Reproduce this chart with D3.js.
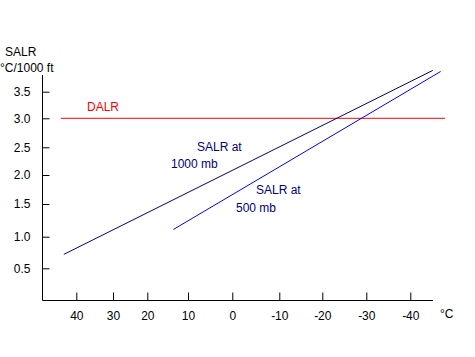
<!DOCTYPE html>
<html><head><meta charset="utf-8">
<script src="https://cdn.jsdelivr.net/npm/d3@7"></script>
<style>body{margin:0;background:#fff}svg{display:block}text{font-family:"Liberation Sans",Arial,sans-serif;font-size:12px}</style>
</head><body>
<svg id="c" width="475" height="357"></svg>
<script>
// Data
const xTicks = [40, 30, 20, 10, 0, -10, -20, -30, -40];
const yTicks = [0.5, 1.0, 1.5, 2.0, 2.5, 3.0, 3.5];
const salr1000Temp = [43.4, -45.1];
const salr1000Rate = [0.72, 3.90];
const salr500Temp = [13.6, -46.9];
const salr500Rate = [1.11, 3.88];
const dalrTemp = [44.2, -47.9];
const dalrRate = [3.0, 3.0];

// Layout (the original axis is hand-spaced, so a piecewise scale is used)
const xTickPx = [76.3, 113, 147.3, 188, 232.3, 279.3, 322.3, 366.3, 410.3];
const yDomain = [0, 0.5, 1.0, 1.5, 2.0, 2.5, 3.0, 3.5];
const yTickPx = [300, 268.3, 236.7, 204, 175, 147.3, 118.3, 91.7];

const svg = d3.select("#c");
const x = d3.scaleLinear().domain(xTicks).range(xTickPx);
const y = d3.scaleLinear().domain(yDomain).range(yTickPx);

const axisX0 = 42.5, axisY0 = 300.5;
const FONT = "Liberation Sans, Arial, sans-serif";

// axes
svg.append("line").attr("x1", axisX0).attr("x2", axisX0).attr("y1", 75).attr("y2", axisY0).attr("stroke", "#000");
svg.append("line").attr("x1", axisX0).attr("x2", 433).attr("y1", axisY0).attr("y2", axisY0).attr("stroke", "#000");

const gx = svg.append("g").attr("transform", `translate(0,${axisY0})`)
  .call(d3.axisBottom(x).tickValues(xTicks).tickSizeInner(-8).tickSizeOuter(0).tickPadding(9).tickFormat(d => String(d)));
gx.select(".domain").remove();
gx.selectAll(".tick line").attr("stroke", "#000");
gx.selectAll("text").attr("font-size", 11.5).attr("font-family", FONT).attr("fill", "#000").attr("dy", "0.9em");

const gy = svg.append("g").attr("transform", `translate(${axisX0},0)`)
  .call(d3.axisLeft(y).tickValues(yTicks).tickSizeInner(-7).tickSizeOuter(0).tickPadding(12).tickFormat(d3.format(".1f")));
gy.select(".domain").remove();
gy.selectAll(".tick line").attr("stroke", "#000");
gy.selectAll("text").attr("font-size", 11.5).attr("font-family", FONT).attr("fill", "#000");

// axis titles
svg.append("text").attr("x", 5).attr("y", 56).text("SALR");
svg.append("text").attr("x", 0).attr("y", 72).text("°C/1000 ft");
svg.append("text").attr("x", 440).attr("y", 318).text("°C");

const line = d3.line().x(d => x(d[0])).y(d => y(d[1]));
function draw(t, r, color) {
  svg.append("path").datum(d3.zip(t, r)).attr("d", line)
    .attr("fill", "none").attr("stroke", color).attr("stroke-width", 1);
}
draw(dalrTemp, dalrRate, "#ff0000");
draw(salr1000Temp, salr1000Rate, "#000080");
draw(salr500Temp, salr500Rate, "#0000ff");

// labels
svg.append("text").attr("x", 87).attr("y", 111).attr("fill", "#ff0000").text("DALR");
svg.append("text").attr("x", 197).attr("y", 151).attr("fill", "#000080").text("SALR at");
svg.append("text").attr("x", 171).attr("y", 168).attr("fill", "#000080").text("1000 mb");
svg.append("text").attr("x", 256).attr("y", 193.5).attr("fill", "#000080").text("SALR at");
svg.append("text").attr("x", 236).attr("y", 212).attr("fill", "#000080").text("500 mb");
</script>
</body></html>
